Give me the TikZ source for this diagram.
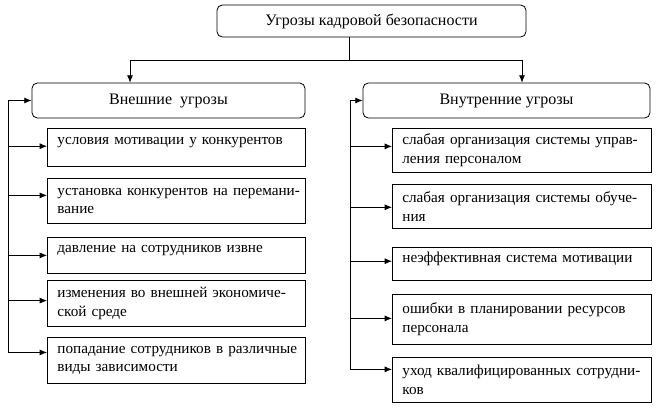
\documentclass[tikz,border=0pt]{standalone}
\usepackage{fontspec}
\setmainfont{Liberation Serif}
\usetikzlibrary{calc,arrows.meta}
\newcommand\fullline[1]{\makebox[\linewidth][s]{#1}}
\tikzset{
	arr/.style={-{Latex[length=5.5pt,width=4.5pt]}},
	head/.style={draw,rounded corners=4pt,font=\fontsize{12pt}{13.9pt}\selectfont},
	item/.style={draw,anchor=north west,text width=178.5pt,align=left,inner xsep=7.5pt,inner ysep=2pt,font=\fontsize{11.4pt}{13.9pt}\selectfont},
	oneline/.style={text depth=10pt}
}
\begin{document}
\begin{tikzpicture}[x=0.75pt,y=-0.75pt,line width=0.6pt]
	\useasboundingbox (0,0) rectangle (660,407);
	\node[head,minimum width=231.75pt,minimum height=24pt] (top) at (371.5,21) {Угрозы кадровой безопасности};
	\node[head,minimum width=204.75pt,minimum height=26.25pt] (ext) at (168.5,100.5) {Внешние\ \ угрозы};
	\node[head,minimum width=215.25pt,minimum height=26.25pt] (int) at (506.5,100.5) {Внутренние угрозы};
	\node[item,oneline,minimum height=28.5pt] (e1) at (47,128) {условия мотивации у конкурентов};
	\node[item,minimum height=33.75pt] (e2) at (47,178) {\fullline{установка конкурентов на перемани-}\\вание};
	\node[item,oneline,minimum height=27pt] (e3) at (47,237) {давление на сотрудников извне};
	\node[item,minimum height=34.5pt] (e4) at (47,280) {\fullline{изменения во внешней экономиче-}\\ской среде};
	\node[item,minimum height=34.5pt] (e5) at (47,337) {\fullline{попадание сотрудников в различные}\\виды зависимости};
	\node[item,text width=179.25pt,minimum height=33pt] (n1) at (392,128) {\fullline{слабая организация системы управ-}\\ления персоналом};
	\node[item,text width=179.25pt,minimum height=33pt] (n2) at (392,184) {\fullline{слабая организация системы обуче-}\\ния};
	\node[item,oneline,text width=179.25pt,minimum height=24.75pt] (n3) at (392,247) {неэффективная система мотивации};
	\node[item,text width=179.25pt,minimum height=37.5pt] (n4) at (392,294) {\fullline{ошибки в планировании ресурсов}\\персонала};
	\node[item,text width=179.25pt,minimum height=33.75pt] (n5) at (392,357) {\fullline{уход квалифицированных сотрудни-}\\ков};
	\coordinate (split) at (349,60);
	\coordinate (jl) at (130,60);
	\coordinate (jr) at (522,60);
	\coordinate (lbus) at (8,0);
	\coordinate (rbus) at (350,0);
	\draw (top.south -| split) -- (split);
	\draw[arr] (split) -- (jl) -- (jl |- ext.north);
	\draw[arr] (split) -- (jr) -- (jr |- int.north);
	\foreach \n/\f in {e1/.47,e2/.38,e3/.5,e4/.44,e5/.33,n1/.41,n2/.52,n3/.42,n4/.48,n5/.27}
		\coordinate (\n-in) at ($(\n.north west)!\f!(\n.south west)$);
	\foreach \n in {e1,e2,e3,e4,e5}
		\draw[arr] (lbus |- \n-in) -- (\n-in);
	\foreach \n in {n1,n2,n3,n4,n5}
		\draw[arr] (rbus |- \n-in) -- (\n-in);
	\draw[arr] (lbus |- e5-in) |- (ext.west);
	\draw[arr] (rbus |- n5-in) |- (int.west);
\end{tikzpicture}
\end{document}
